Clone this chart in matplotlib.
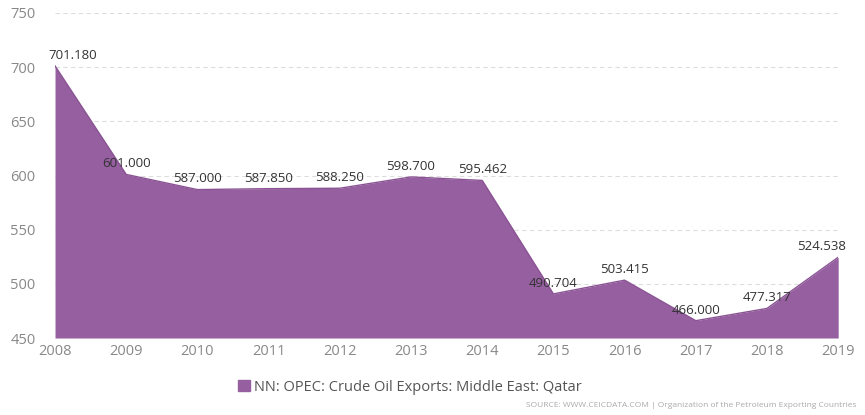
import matplotlib
matplotlib.use("Agg")
import matplotlib.pyplot as plt
from matplotlib.patches import Patch

# -----------------------------------------
# Data
# -----------------------------------------

years = [2008, 2009, 2010, 2011, 2012, 2013, 2014, 2015, 2016, 2017, 2018, 2019]
exports = [701.180, 601.000, 587.000, 587.850, 588.250, 598.700, 595.462,
           490.704, 503.415, 466.000, 477.317, 524.538]
value_labels = ["701.180", "601.000", "587.000", "587.850", "588.250", "598.700",
                "595.462", "490.704", "503.415", "466.000", "477.317", "524.538"]
y_ticks = [450, 500, 550, 600, 650, 700, 750]

series_name = "NN: OPEC: Crude Oil Exports: Middle East: Qatar"
source_text = "SOURCE: WWW.CEICDATA.COM | Organization of the Petroleum Exporting Countries"

fill_color = "#955fa0"

plt.rcParams["font.family"] = ["Open Sans", "DejaVu Sans"]

# -----------------------------------------
# Plot
# -----------------------------------------

fig = plt.figure(figsize=(8.65, 4.15), dpi=100)
ax = fig.add_axes([0.0636, 0.1855, 0.9054, 0.7832])

ax.fill_between(years, exports, 450, color=fill_color, linewidth=0, zorder=2)
ax.plot(years, exports, color="#8a5394", linewidth=1.0, zorder=3)

for i, (x, y, lab) in enumerate(zip(years, exports, value_labels)):
    dx = 0
    if i == 0:
        dx = 13
    elif i == len(years) - 1:
        dx = -12
    ax.annotate(lab, (x, y), xytext=(dx, 3),
                textcoords="offset points", ha="center", va="bottom",
                fontsize=9.5, color="#333333", zorder=4)

ax.set_xlim(years[0], years[-1])
ax.set_ylim(450, 750)
ax.set_xticks(years)
ax.set_yticks(y_ticks)
ax.tick_params(axis="both", length=0, labelsize=10.5, colors="#888888")
ax.tick_params(axis="y", pad=14)
ax.tick_params(axis="x", pad=4)

ax.grid(axis="y", linestyle=(0, (4, 3)), color="#dddddd", linewidth=0.8, zorder=0)
for s in ax.spines.values():
    s.set_visible(False)

fig.legend(handles=[Patch(color=fill_color)], labels=[series_name],
           loc="center", bbox_to_anchor=(0.474, 0.067), frameon=False,
           fontsize=10.5, handlelength=0.8, handleheight=0.8, handletextpad=0.3,
           labelcolor="#555555")

fig.text(0.99, 0.022, source_text, ha="right", va="center", fontsize=6, color="#aaaaaa")

plt.savefig("out.png", dpi=100)
